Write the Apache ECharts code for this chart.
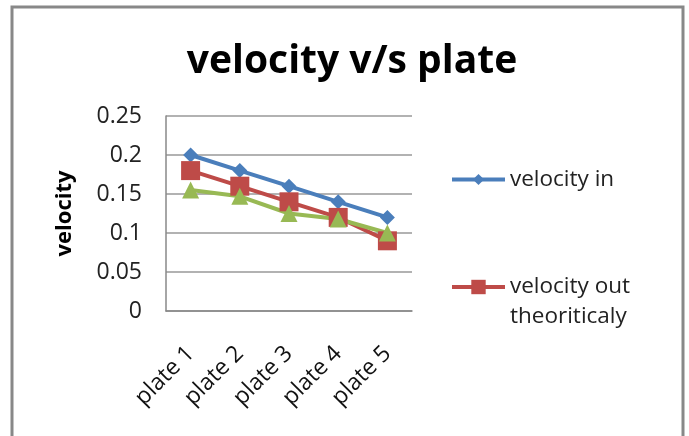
<!DOCTYPE html>
<html><head><meta charset="utf-8">
<script src="https://cdn.jsdelivr.net/npm/echarts@6/dist/echarts.min.js"></script>
<style>html,body{margin:0;padding:0;background:#fff}#c{width:689px;height:436px}</style>
</head><body><div id="c"></div>
<script>
var categories = ['plate 1', 'plate 2', 'plate 3', 'plate 4', 'plate 5'];
var velocityIn = [0.2, 0.18, 0.16, 0.14, 0.12];
var velocityOutTheo = [0.18, 0.16, 0.14, 0.12, 0.09];
var velocityOutOther = [0.155, 0.147, 0.125, 0.118, 0.1];
var yTicks = [0, 0.05, 0.1, 0.15, 0.2, 0.25];

var FONT = 'Open Sans';
var chart = echarts.init(document.getElementById('c'));
chart.setOption({
  animation: false,
  backgroundColor: '#fff',
  title: {
    text: 'velocity v/s plate', left: 347, top: 37, textAlign: 'center',
    textStyle: { fontFamily: FONT, fontWeight: 'bold', fontSize: 39, color: '#000' }
  },
  graphic: [{
    type: 'rect', shape: { x: 12, y: 7, width: 671, height: 440 },
    style: { fill: 'none', stroke: '#888', lineWidth: 3 }, silent: true
  }],
  legend: [{
    data: [{ name: 'velocity in', lineStyle: { width: 4 } }], orient: 'vertical', left: 450, top: 168,
    padding: 0, itemWidth: 53, itemHeight: 14, itemGap: 4,
    textStyle: { fontFamily: FONT, fontSize: 22.5, color: '#222' }
  }, {
    data: [{ name: 'velocity out theoriticaly', lineStyle: { width: 4 } }], orient: 'vertical', left: 450, top: 242,
    padding: 0, itemWidth: 53, itemHeight: 18, itemGap: 4,
    formatter: function (n) { return '\n' + n.replace(' out ', ' out\n'); },
    textStyle: { fontFamily: FONT, fontSize: 22.5, color: '#222', lineHeight: 30 }
  }],
  grid: { left: 166, top: 116, width: 246, height: 195, containLabel: false },
  xAxis: {
    type: 'category', data: categories, boundaryGap: true,
    axisLine: { show: true, lineStyle: { color: '#888', width: 1.5 } },
    axisTick: { show: false },
    axisLabel: { rotate: 45, margin: 39, fontFamily: FONT, fontSize: 23, color: '#111' },
    splitLine: { show: false }
  },
  yAxis: {
    type: 'value', min: yTicks[0], max: yTicks[yTicks.length - 1], interval: 0.05,
    name: 'velocity', nameLocation: 'middle', nameGap: 90, nameRotate: 90,
    nameTextStyle: { fontFamily: FONT, fontWeight: 'bold', fontSize: 22, color: '#000' },
    axisLine: { show: true, lineStyle: { color: '#888', width: 1.5 } },
    axisTick: { show: false },
    axisLabel: { margin: 24, fontFamily: FONT, fontSize: 23, color: '#222' },
    splitLine: { show: true, lineStyle: { color: '#999', width: 1.5 } }
  },
  series: [{
    name: 'velocity in', type: 'line', data: velocityIn,
    symbol: 'diamond', symbolSize: 15,
    lineStyle: { width: 4, color: '#4A7EBB' }, itemStyle: { color: '#4A7EBB' }
  }, {
    name: 'velocity out theoriticaly', type: 'line', data: velocityOutTheo,
    symbol: 'rect', symbolSize: 19,
    lineStyle: { width: 4, color: '#BE4B48' }, itemStyle: { color: '#BE4B48' }
  }, {
    name: 'velocity out', type: 'line', data: velocityOutOther,
    symbol: 'triangle', symbolSize: 17,
    lineStyle: { width: 4, color: '#98B954' }, itemStyle: { color: '#98B954' }
  }]
});
</script></body></html>
